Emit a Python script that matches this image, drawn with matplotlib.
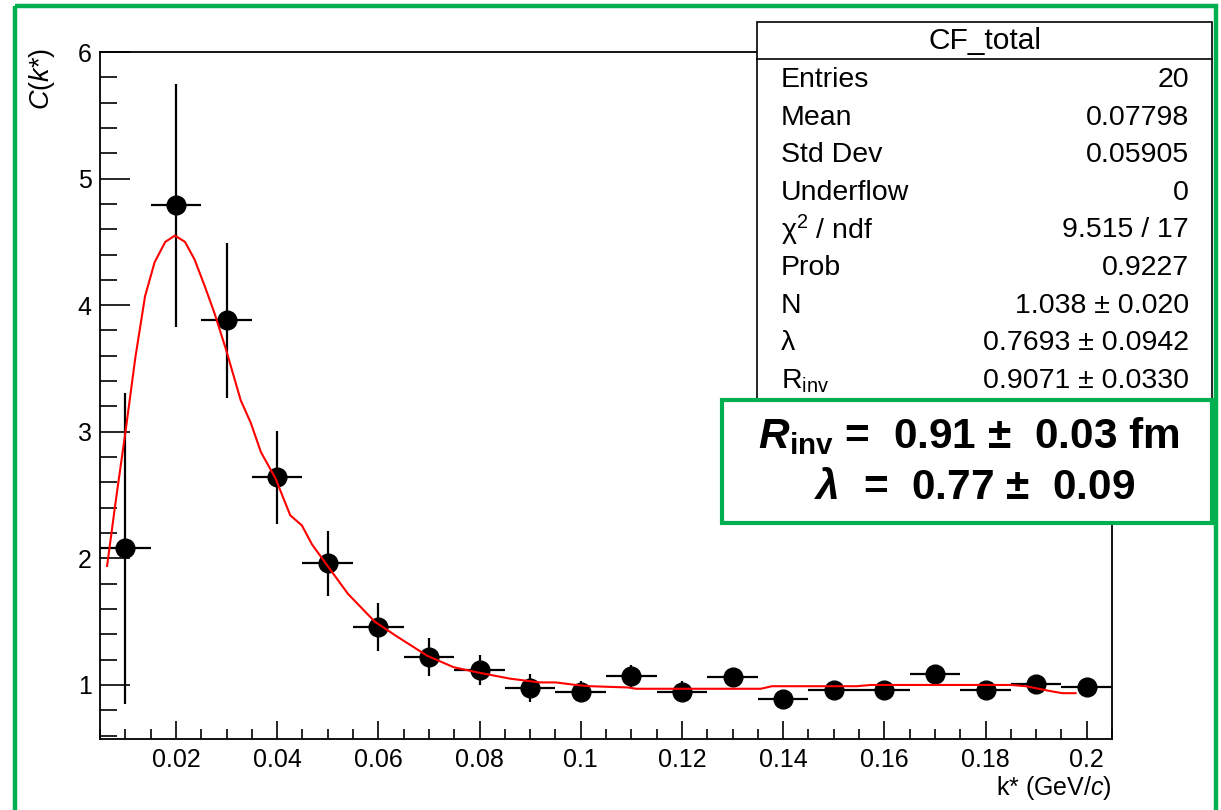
import matplotlib
matplotlib.use("Agg")
import matplotlib.pyplot as plt
from matplotlib.patches import Rectangle
from matplotlib.lines import Line2D
from matplotlib.transforms import Affine2D
from matplotlib.ticker import MultipleLocator

plt.rcParams['font.family'] = ['Liberation Sans', 'DejaVu Sans']
plt.rcParams['mathtext.fontset'] = 'custom'
plt.rcParams['mathtext.rm'] = 'Liberation Sans'
plt.rcParams['mathtext.it'] = 'Liberation Sans:italic'
plt.rcParams['mathtext.bf'] = 'Liberation Sans:bold'
plt.rcParams['mathtext.bfit'] = 'Liberation Sans:italic:bold'
plt.rcParams['mathtext.default'] = 'regular'

# ---------------- data ----------------
k_centers = [0.01, 0.02, 0.03, 0.04, 0.05, 0.06, 0.07, 0.08, 0.09, 0.10,
             0.11, 0.12, 0.13, 0.14, 0.15, 0.16, 0.17, 0.18, 0.19, 0.20]
cf_values = [2.08, 4.79, 3.88, 2.64, 1.96, 1.46, 1.22, 1.12, 0.976, 0.947,
             1.07, 0.947, 1.06, 0.887, 0.96, 0.96, 1.09, 0.96, 1.005, 0.985]
cf_errors = [1.23, 0.96, 0.61, 0.37, 0.26, 0.19, 0.15, 0.12, 0.11, 0.085,
             0.09, 0.085, 0.07, 0.06, 0.06, 0.06, 0.06, 0.06, 0.06, 0.06]
bin_half_width = 0.005

fit_k = [0.0064, 0.0081, 0.0100, 0.0120, 0.0139, 0.0158, 0.0179, 0.0198, 0.0218,
         0.0237, 0.0257, 0.0276, 0.0299, 0.0328, 0.0348, 0.0368, 0.0397, 0.0426,
         0.0449, 0.0469, 0.0498, 0.0540, 0.0593, 0.0638, 0.0697, 0.0749, 0.0795,
         0.0860, 0.0919, 0.0951, 0.0990, 0.1020, 0.1094, 0.1109, 0.1356, 0.1378,
         0.1545, 0.1574, 0.1850, 0.1880, 0.1930, 0.1952, 0.1978]
fit_v = [1.94, 2.45, 2.99, 3.59, 4.07, 4.34, 4.50, 4.55, 4.50,
         4.36, 4.15, 3.94, 3.65, 3.25, 3.07, 2.84, 2.63, 2.34,
         2.26, 2.11, 1.95, 1.72, 1.50, 1.38, 1.23, 1.14, 1.10,
         1.05, 1.02, 1.02, 1.00, 0.99, 0.98, 0.97, 0.97, 0.99,
         0.99, 1.00, 1.00, 0.99, 0.95, 0.935, 0.935]

x_ticks = [0.02, 0.04, 0.06, 0.08, 0.10, 0.12, 0.14, 0.16, 0.18, 0.20]
x_tick_labels = ["0.02", "0.04", "0.06", "0.08", "0.1", "0.12", "0.14", "0.16", "0.18", "0.2"]
y_ticks = [1, 2, 3, 4, 5, 6]
y_tick_labels = ["1", "2", "3", "4", "5", "6"]

stats_title = "CF_total"
stats_labels = ["Entries", "Mean", "Std Dev", "Underflow", "χ$^{2}$ / ndf",
                "Prob", "N", "λ", r"R$_{\rm inv}$"]
stats_values = ["20", "0.07798", "0.05905", "0", "9.515 / 17", "0.9227",
                "1.038 ± 0.020", "0.7693 ± 0.0942", "0.9071 ± 0.0330"]
result_line1 = r"$\mathbfit{R}_{\mathbf{inv}}$ =  0.91 ±  0.03 fm"
result_line2 = r"$\mathbfit{\lambda}$  =  0.77 ±  0.09"

# ---------------- figure ----------------
W, H = 1221, 810
fig = plt.figure(figsize=(W / 100, H / 100), dpi=100)
fig.patch.set_facecolor('white')
PX = Affine2D().scale(1 / W, -1 / H).translate(0, 1) + fig.transFigure

ax_l, ax_r, ax_t, ax_b = 100, 1112, 52, 738.5
ax = fig.add_axes([ax_l / W, 1 - ax_b / H, (ax_r - ax_l) / W, (ax_b - ax_t) / H])

ax.errorbar(k_centers, cf_values, xerr=bin_half_width, yerr=cf_errors, fmt='o',
            color='black', ms=13.5, elinewidth=1.6, capsize=0, zorder=3)
ax.plot(fit_k, fit_v, color='#ff0000', lw=1.5, zorder=4)

ax.set_xlim(0.005, 0.205)
ax.set_ylim(0.577, 6.0)
ax.set_xticks(x_ticks)
ax.set_xticklabels(x_tick_labels)
ax.set_yticks(y_ticks)
ax.set_yticklabels(y_tick_labels)
ax.xaxis.set_minor_locator(MultipleLocator(0.005))
ax.yaxis.set_minor_locator(MultipleLocator(0.2))
ax.tick_params(axis='both', which='both', direction='in', width=1.2, top=False, right=False,
               labelsize=18, colors='black')
ax.tick_params(axis='y', which='major', length=21.5, pad=6)
ax.tick_params(axis='y', which='minor', length=12)
ax.tick_params(axis='x', which='major', length=13, pad=7)
ax.tick_params(axis='x', which='minor', length=7)
for s in ax.spines.values():
    s.set_linewidth(1.3)

fig.text(ax_r / W, 1 - 788 / H, "k* (GeV/$\\it{c}$)", ha='right', va='center', fontsize=18)
fig.text(42 / W, 1 - 48 / H, "$\\it{C}$($\\it{k}$*)", rotation=90, ha='center', va='top', fontsize=19.5)

# ---------------- stats box ----------------
sb_l, sb_r, sb_t, sb_b = 757, 1212, 21.5, 410
fig.patches.append(Rectangle((sb_l, sb_t), sb_r - sb_l, sb_b - sb_t, transform=PX,
                             facecolor='white', edgecolor='black', lw=1.2, zorder=10))
fig.lines.append(Line2D([sb_l, sb_r], [59, 59], transform=PX, color='black', lw=1.2, zorder=11))
fig.text((sb_l + sb_r) / 2 / W, 1 - 41 / H, stats_title, ha='center', va='center',
         fontsize=21.5, zorder=12)
row_y0, row_dy = 80, 37.6
for i, (lab, val) in enumerate(zip(stats_labels, stats_values)):
    yy = row_y0 + i * row_dy
    fig.text(781 / W, 1 - yy / H, lab, ha='left', va='center', fontsize=20.5, zorder=12)
    fig.text(1189 / W, 1 - yy / H, val, ha='right', va='center', fontsize=20.5, zorder=12)

# ---------------- result box ----------------
green = '#00b050'
fig.patches.append(Rectangle((722, 399.5), 1212 - 722, 523 - 399.5, transform=PX,
                             facecolor='white', edgecolor=green, lw=3.0, zorder=20))
fig.text(969 / W, 1 - 436 / H, result_line1, ha='center', va='center', fontsize=30.5,
         fontweight='bold', zorder=21)
fig.text(975 / W, 1 - 488 / H, result_line2, ha='center', va='center', fontsize=30.5,
         fontweight='bold', zorder=21)

# outer green border
fig.patches.append(Rectangle((15, 6), 1215.5 - 15, 830, transform=PX,
                             facecolor='none', edgecolor=green, lw=3.2, zorder=30))

fig.savefig("out.png", dpi=100)
